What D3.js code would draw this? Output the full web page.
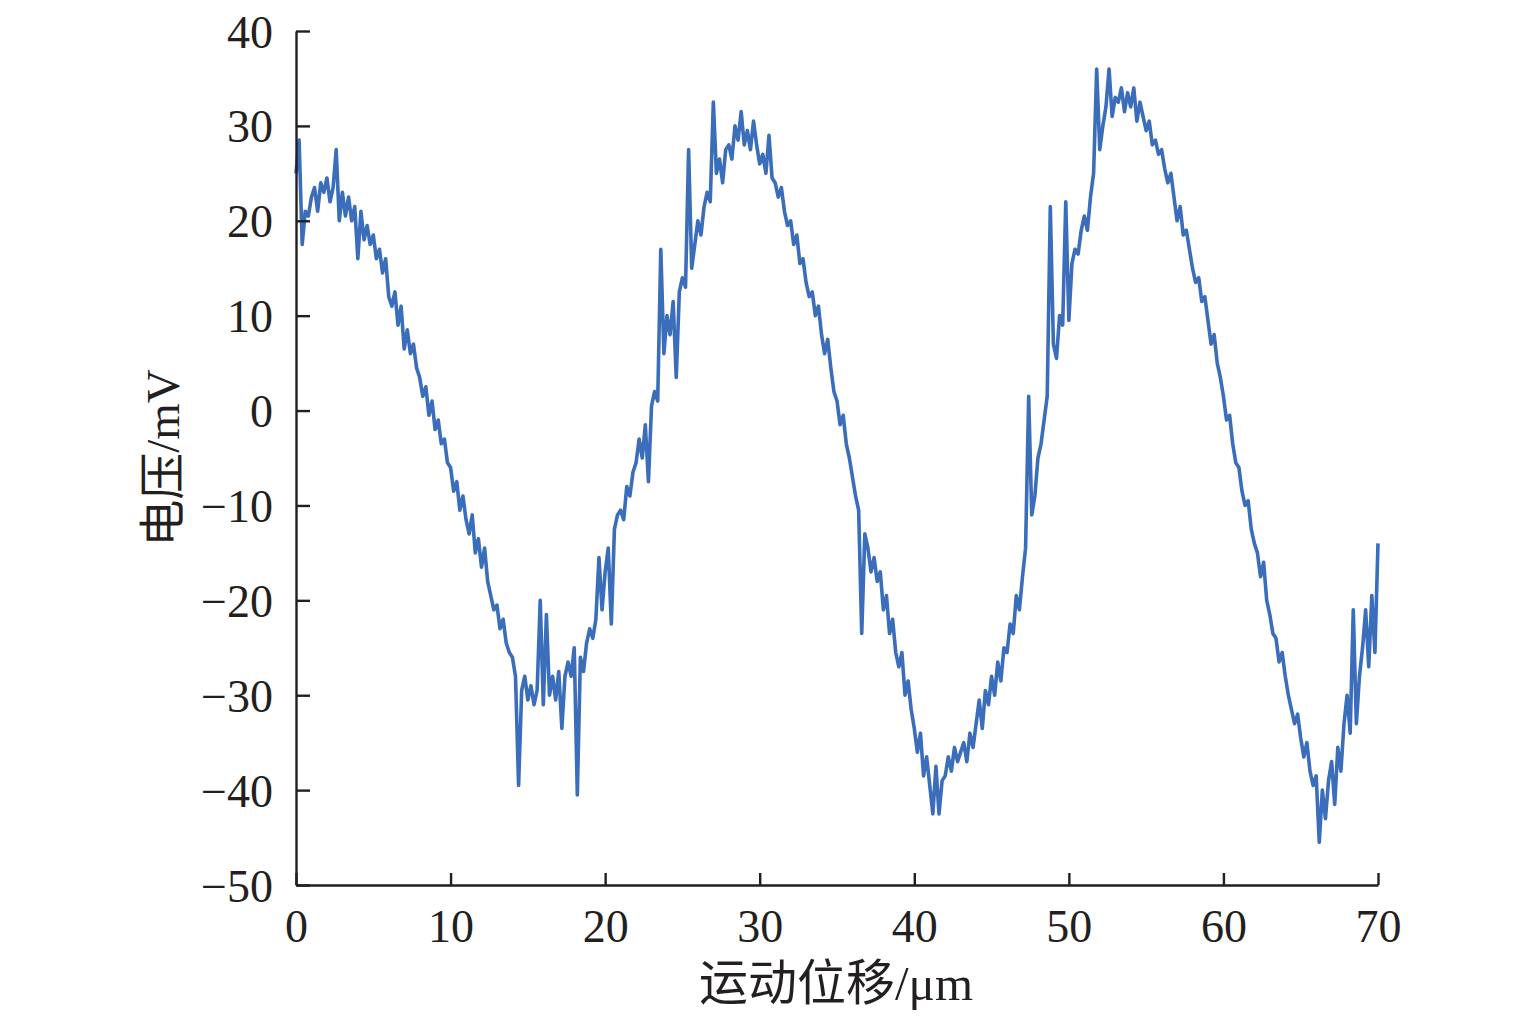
<!DOCTYPE html>
<html>
<head>
<meta charset="utf-8">
<script src="https://cdn.jsdelivr.net/npm/d3@7"></script>
<style>
  html, body { margin: 0; padding: 0; background: #fff; }
  svg { display: block; }
  .tick text { font-family: "Liberation Serif", "Times New Roman", serif; }
</style>
</head>
<body>
<svg id="chart" width="1535" height="1022"></svg>
<script>
// ---- data ----
const xLabel = "运动位移/μm";
const yLabel = "电压/mV";
const xTicks = [0, 10, 20, 30, 40, 50, 60, 70];
const yTicks = [40, 30, 20, 10, 0, -10, -20, -30, -40, -50];
const sampleStep = 0.2; // µm between samples
// voltage (mV), one value per 0.2 µm, 5 values per µm row
const voltage = [
  25, 28.5, 17.5, 21, 20.5,
  22.5, 23.5, 21, 24, 23,
  24.5, 22, 23.5, 27.5, 20,
  23, 20.5, 22.5, 20, 21.5,
  16, 21, 18, 19.5, 17.5,
  18.5, 16, 17, 14.5, 16,
  12, 11, 12.5, 9, 11,
  6.5, 8.5, 6, 7, 4.5,
  3.5, 1.5, 2.5, -0.5, 1,
  -2, -1, -3.5, -3, -5.5,
  -6, -8.5, -7.5, -10.5, -9,
  -11.5, -13, -11, -15, -13.5,
  -16.5, -14.5, -18, -19.5, -21,
  -20.5, -23, -22, -24.5, -25.5,
  -26, -28, -39.5, -29.5, -28,
  -30.5, -29, -31, -29.5, -20,
  -31, -21.5, -30, -28, -30.5,
  -27.5, -33.5, -28, -26.5, -28,
  -25, -40.5, -26, -27.5, -24.5,
  -23, -24, -22, -15.5, -21,
  -17, -14.5, -22.5, -12.5, -11,
  -10.5, -11.5, -8, -9, -6.5,
  -5.5, -3, -5, -1.5, -7.5,
  0.5, 2, 1, 17, 6,
  10, 8, 11.5, 3.5, 12.5,
  14, 13, 27.5, 15, 17.5,
  20, 18.5, 21.5, 23, 22,
  32.5, 25, 26.5, 24, 27.5,
  28, 26.5, 30, 28.5, 31.5,
  28, 29.5, 27.5, 30.5, 28,
  26, 27, 25, 29, 24.5,
  24, 22.5, 23.5, 21, 19.5,
  20, 17.5, 18.5, 15.5, 16,
  13.5, 12, 12.5, 10, 11,
  8, 6, 7.5, 4.5, 2,
  1, -1.5, -0.5, -3.5, -5,
  -7, -9, -10.5, -23.5, -13,
  -14.5, -17, -15.5, -18, -17,
  -21, -19.5, -23.5, -22, -25.5,
  -27, -25.5, -30, -28.5, -31.5,
  -33.5, -36, -34, -38.5, -36.5,
  -39.5, -42.5, -37.5, -42.5, -39,
  -38.5, -36.5, -38, -35.5, -37,
  -36, -35, -37, -34, -35.5,
  -33, -30.5, -33.5, -29.5, -31,
  -28, -30, -26.5, -28.5, -25,
  -25.5, -22.5, -23.5, -19.5, -21,
  -17.5, -14.5, 1.5, -11, -9,
  -5, -3.5, -1, 1.5, 21.5,
  7, 5.5, 10, 9, 22,
  9.5, 15.5, 17, 16.5, 19,
  20.5, 19, 22.5, 25, 36,
  27.5, 30, 32, 36, 31,
  33, 32.5, 34, 31.5, 33.5,
  32, 34, 30.5, 32.5, 31,
  29.5, 30.5, 28, 28.5, 27,
  27.5, 25.5, 24, 25, 22.5,
  20, 21.5, 18.5, 19, 17,
  15, 13.5, 14, 11.5, 12,
  9.5, 7, 8, 5, 3.5,
  1.5, -1, -0.5, -3.5, -5.5,
  -6, -8.5, -10, -9.5, -12.5,
  -14, -15, -17.5, -16, -20,
  -21.5, -23.5, -24, -26.5, -25.5,
  -28, -30, -31.5, -33, -32,
  -34.5, -36.5, -35, -38, -39.5,
  -38.5, -45.5, -40, -43, -39,
  -37, -41.5, -35.5, -38, -33,
  -30, -34, -21, -33, -28,
  -25, -21, -27, -19.5, -25.5,
  -14
];

// ---- drawing ----
const svg = d3.select("#chart");
const x = d3.scaleLinear().domain([0, 70]).range([296, 1378]);
const y = d3.scaleLinear().domain([-50, 40]).range([885, 31]);
const axisColor = "#231f20";
const fmt = d => (d < 0 ? "\u2212" + Math.abs(d) : String(d));

// series line
const pts = voltage.map((v, i) => [i * sampleStep, v]);
svg.append("path")
  .datum(pts)
  .attr("fill", "none")
  .attr("stroke", "#3a6dba")
  .attr("stroke-width", 3.6)
  .attr("stroke-linejoin", "round")
  .attr("d", d3.line().x(d => x(d[0])).y(d => y(d[1])));

// y axis (ticks pointing inward)
const yAxis = svg.append("g")
  .attr("transform", `translate(${x(0)},0)`)
  .call(d3.axisLeft(y).tickValues(yTicks).tickFormat(fmt).tickSizeInner(-14).tickSizeOuter(0).tickPadding(23));
yAxis.select(".domain").attr("stroke", axisColor).attr("stroke-width", 2.4);
yAxis.selectAll(".tick line").attr("stroke", axisColor).attr("stroke-width", 2.4);
yAxis.selectAll(".tick text").attr("fill", "#231f20").attr("font-size", 46).attr("dy", "0.35em");

// x axis (ticks pointing inward)
const xAxis = svg.append("g")
  .attr("transform", `translate(0,${y(-50)})`)
  .call(d3.axisBottom(x).tickValues(xTicks).tickFormat(fmt).tickSizeInner(-12).tickSizeOuter(0).tickPadding(24));
xAxis.select(".domain").attr("stroke", axisColor).attr("stroke-width", 2.4);
xAxis.selectAll(".tick line").attr("stroke", axisColor).attr("stroke-width", 2.4);
xAxis.selectAll(".tick text").attr("fill", "#231f20").attr("font-size", 46).attr("dy", "0.71em");

// axis titles
svg.append("text")
  .attr("x", 836).attr("y", 1000)
  .attr("text-anchor", "middle")
  .attr("font-family", "'Liberation Serif', 'Noto Sans CJK SC', serif")
  .attr("font-size", 49)
  .attr("fill", "#231f20")
  .text(xLabel);

svg.append("text")
  .attr("transform", "translate(179,458) rotate(-90)")
  .attr("text-anchor", "middle")
  .attr("font-family", "'Liberation Serif', 'Noto Sans CJK SC', serif")
  .attr("font-size", 47)
  .attr("fill", "#231f20")
  .text(yLabel);
</script>
</body>
</html>
